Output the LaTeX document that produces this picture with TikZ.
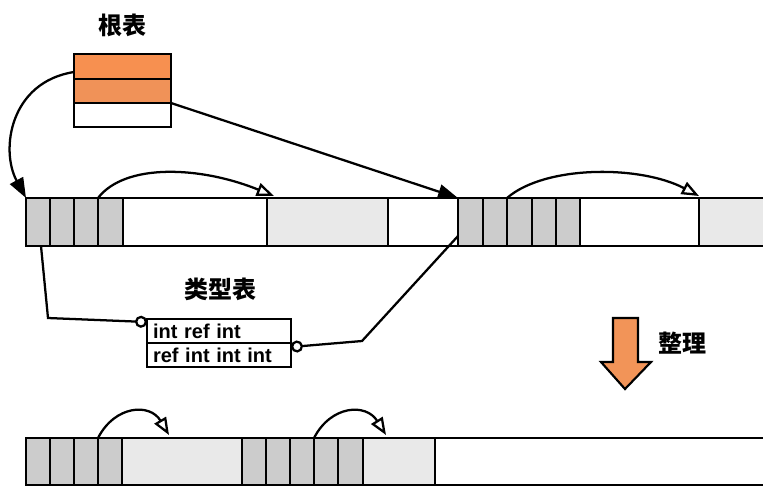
\documentclass[tikz,border=0pt]{standalone}
\usepackage{fontspec}
\setmainfont{Liberation Sans}
\newfontfamily\cjk{Noto Sans CJK SC}
\usetikzlibrary{arrows.meta,calc}

\definecolor{rootA}{RGB}{247,144,80}
\definecolor{rootB}{RGB}{240,146,88}
\definecolor{moveorange}{RGB}{242,148,88}
\definecolor{usedgray}{RGB}{204,204,204}
\definecolor{datagray}{RGB}{233,233,233}

% \mcell{name}{left}{right}{top}{height}{fill}  (pixel-like units)
\newcommand\mcell[6]{%
  \node[cellbox, fill=#6, minimum width={(#3-#2)*0.75pt},
        minimum height={(#5)*0.75pt}] (#1) at (#2,#4) {};}

\begin{document}
\begin{tikzpicture}[x=0.75pt,y=-0.75pt,
  cellbox/.style={draw=black, line width=1.9pt, inner sep=0pt, outer sep=0pt,
                  anchor=north west},
  tablebox/.style={draw=black, line width=1.7pt, inner sep=0pt, outer sep=0pt,
                   anchor=north west},
  trow/.style={tablebox, minimum width={144*0.75pt}, minimum height={24*0.75pt},
               text width={132*0.75pt}, inner xsep={6*0.75pt}, align=left,
               font=\bfseries\fontsize{15pt}{15pt}\selectfont},
  cjklabel/.style={font=\cjk\bfseries\fontsize{18pt}{18pt}\selectfont, inner sep=0pt},
  conn/.style={draw=black, line width=1.7pt},
  solidtip/.style={-{Triangle[length=15pt,width=11pt]}},
  hoptip/.style={-{Triangle[open,fill=white,length=13pt,width=10pt]}},
  ringend/.style={-{Circle[open,fill=white,length=9pt]}},
  ringstart/.style={{Circle[open,fill=white,length=9pt]}-},
]
\useasboundingbox (0,0) rectangle (763,487);

% ---- heap before compaction ----
\mcell{a1}{26}{50}{198}{48}{usedgray}
\mcell{a2}{50}{74}{198}{48}{usedgray}
\mcell{a3}{74}{98}{198}{48}{usedgray}
\mcell{a4}{98}{123}{198}{48}{usedgray}
\mcell{w1}{123}{267}{198}{48}{white}
\mcell{g1}{267}{388}{198}{48}{datagray}
\mcell{w2}{388}{458}{198}{48}{white}
\mcell{b1}{458}{483}{198}{48}{usedgray}
\mcell{b2}{483}{507}{198}{48}{usedgray}
\mcell{b3}{507}{532}{198}{48}{usedgray}
\mcell{b4}{532}{556}{198}{48}{usedgray}
\mcell{b5}{556}{580}{198}{48}{usedgray}
\mcell{w3}{580}{699}{198}{48}{white}
\mcell{g2}{699}{772}{198}{48}{datagray}

% ---- heap after compaction ----
\mcell{c1}{26}{50}{438}{47}{usedgray}
\mcell{c2}{50}{74}{438}{47}{usedgray}
\mcell{c3}{74}{98}{438}{47}{usedgray}
\mcell{c4}{98}{122}{438}{47}{usedgray}
\mcell{d1}{122}{242}{438}{47}{datagray}
\mcell{e1}{242}{266}{438}{47}{usedgray}
\mcell{e2}{266}{290}{438}{47}{usedgray}
\mcell{e3}{290}{314}{438}{47}{usedgray}
\mcell{e4}{314}{338}{438}{47}{usedgray}
\mcell{e5}{338}{363}{438}{47}{usedgray}
\mcell{d2}{363}{435}{438}{47}{datagray}
\mcell{f1}{435}{772}{438}{47}{white}

% ---- root table ----
\node[tablebox, fill=rootA, minimum width={97*0.75pt}, minimum height={25*0.75pt}] (r1) at (74,54) {};
\node[tablebox, fill=rootB, minimum width={97*0.75pt}, minimum height={24*0.75pt}] (r2) at (74,79) {};
\node[tablebox, fill=white, minimum width={97*0.75pt}, minimum height={24*0.75pt}] (r3) at (74,103) {};
\node[cjklabel] (rootlbl) at (122,25) {根表};

% ---- type table ----
\node[trow] (t1) at (147,319) {int ref int};
\node[trow] (t2) at (147,343) {ref int int int};
\node[cjklabel] (typelbl) at (220,289) {类型表};

% ---- references inside the heap ----
\draw[conn, hoptip] (a4.north west) .. controls (125,163) and (200,166) .. ($(g1.north west)+(7,-2)$);
\draw[conn, hoptip] (b3.north west) .. controls (545,165) and (640,165) .. ($(g2.north west)+(0,-2)$);
\draw[conn, hoptip] (c4.north west) .. controls (115,405) and (150,403) .. ($(d1.north west)+(47,-3)$);
\draw[conn, hoptip] (e4.north west) .. controls (331,405) and (366,403) .. ($(d2.north west)+(23,-3)$);

% ---- roots into the heap ----
\draw[conn, solidtip] ($(r1.south west)+(0,-7)$) .. controls (10,82) and (0,150) .. (a1.north west);
\draw[conn, solidtip] (r2.south east) -- (b1.north west);

% ---- object headers to type table ----
\coordinate (k1) at (48,318);
\coordinate (k2) at (362,341);
\draw[conn, ringend] ($(a1.south)+(3,0)$) -- (k1) -- ($(t1.north west)+(0,3)$);
\draw[conn, ringstart] ($(t2.north east)+(0,4)$) -- (k2) -- ($(b1.south west)+(0,-10)$);

% ---- compaction arrow ----
\draw[line width=1.6pt, fill=moveorange, line join=miter]
  (613,318) -- (638,318) -- (638,362) -- (651,362) -- (625,389)
  -- (601,362) -- (613,362) -- cycle;
\node[cjklabel] (movelbl) at (682,343) {整理};
\end{tikzpicture}
\end{document}
